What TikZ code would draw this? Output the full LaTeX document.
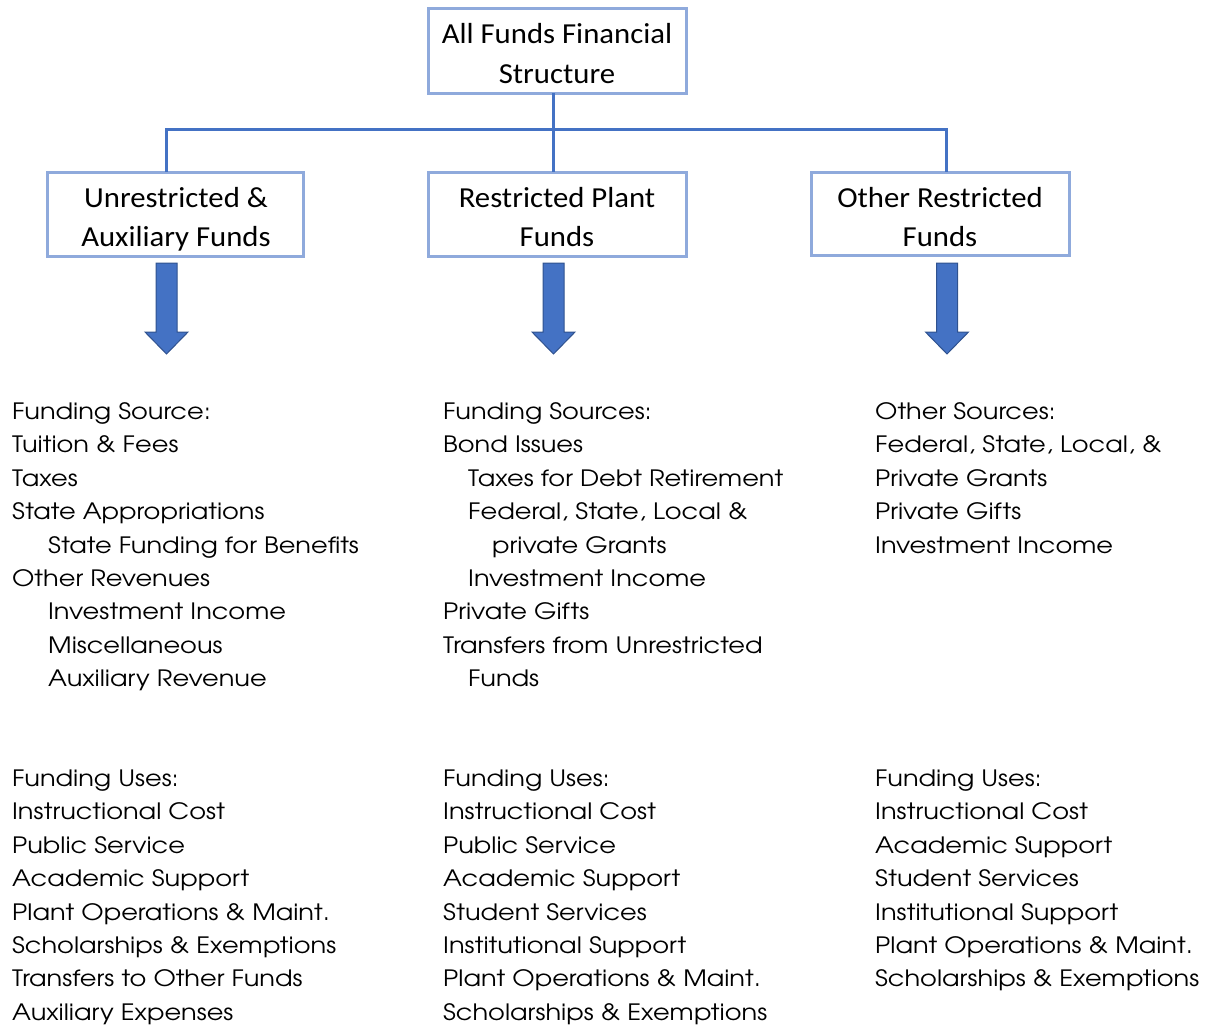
\documentclass[tikz,border=0pt]{standalone}
\usepackage{fontspec}
\setmainfont[FakeStretch=1.14]{TeX Gyre Adventor}
\newfontfamily\boxfont[FakeStretch=1.06]{Carlito}
\definecolor{boxedge}{HTML}{8FAADC}
\definecolor{linkblue}{HTML}{4472C4}
\definecolor{arrowedge}{HTML}{2F528F}
\tikzset{
  fundbox/.style={draw=boxedge, line width=3pt, rectangle, inner sep=0pt},
  boxtext/.style={anchor=base, inner sep=0pt, font=\boxfont\fontsize{29}{39}\selectfont},
  link/.style={draw=linkblue, line width=3pt},
  bigarrow/.style={fill=linkblue, draw=arrowedge, line width=1pt},
  listline/.style={anchor=base west, inner sep=0pt, font=\fontsize{22.5}{33.4}\selectfont}
}
\newcommand{\downarrowshape}[1]{% x center
  \fill[bigarrow] (#1-10.5,263) -- (#1+10.5,263) -- (#1+10.5,332) -- (#1+21.5,332)
    -- (#1,354) -- (#1-21.5,332) -- (#1-10.5,332) -- cycle;
}
\begin{document}
\begin{tikzpicture}[x=1pt,y=-1pt]
\useasboundingbox (0,0) rectangle (1207,1025);

% boxes
\node[fundbox, minimum width=258, minimum height=84] (top) at (557,51) {};
\node[fundbox, minimum width=256, minimum height=84] (left) at (175,214) {};
\node[fundbox, minimum width=258, minimum height=84] (mid) at (557,214) {};
\node[fundbox, minimum width=258, minimum height=83] (right) at (940,213.5) {};

\node[boxtext] (topT1) at (557,44) {All Funds Financial};
\node[boxtext] (topT2) at (557,83.5) {Structure};
\node[boxtext] (leftT1) at (176,207) {Unrestricted \&};
\node[boxtext] (leftT2) at (176,246.5) {Auxiliary Funds};
\node[boxtext] (midT1) at (557,207) {Restricted Plant};
\node[boxtext] (midT2) at (557,246.5) {Funds};
\node[boxtext] (rightT1) at (940,207) {Other Restricted};
\node[boxtext] (rightT2) at (940,246.5) {Funds};

% connectors
\coordinate (topS) at (553,93);
\coordinate (midN) at (553,172);
\coordinate (leftN) at (166,172);
\coordinate (rightN) at (946,172);
\coordinate (busL) at (166,129);
\coordinate (busR) at (946,129);
\draw[link] (topS) -- (midN);
\draw[link] (leftN) -- (busL) -- (busR) -- (rightN);

% block arrows
\downarrowshape{166.5}
\downarrowshape{553.5}
\downarrowshape{947}

% left column sources
\foreach \t/\dx [count=\i] in {{Funding Source:}/0, {Tuition \& Fees}/0, {Taxes}/0,
  {State Appropriations}/0, {State Funding for Benefits}/36, {Other Revenues}/0,
  {Investment Income}/36, {Miscellaneous}/36, {Auxiliary Revenue}/36}
  \node[listline] (ls\i) at (12+\dx, 419.5+33.375*\i-33.375) {\t};

% middle column sources
\foreach \t/\dx [count=\i] in {{Funding Sources:}/0, {Bond Issues}/0,
  {Taxes for Debt Retirement}/25, {Federal, State, Local \&}/25, {private Grants}/49,
  {Investment Income}/25, {Private Gifts}/0, {Transfers from Unrestricted}/0, {Funds}/25}
  \node[listline] (ms\i) at (443+\dx, 419.5+33.375*\i-33.375) {\t};

% right column sources
\foreach \t [count=\i] in {{Other Sources:}, {Federal, State, Local, \&}, {Private Grants},
  {Private Gifts}, {Investment Income}}
  \node[listline] (rs\i) at (875, 419.5+33.375*\i-33.375) {\t};

% left uses
\foreach \t [count=\i] in {{Funding Uses:}, {Instructional Cost}, {Public Service},
  {Academic Support}, {Plant Operations \& Maint.}, {Scholarships \& Exemptions},
  {Transfers to Other Funds}, {Auxiliary Expenses}}
  \node[listline] (lu\i) at (12, 786.6+33.375*\i-33.375) {\t};

% middle uses
\foreach \t [count=\i] in {{Funding Uses:}, {Instructional Cost}, {Public Service},
  {Academic Support}, {Student Services}, {Institutional Support},
  {Plant Operations \& Maint.}, {Scholarships \& Exemptions}}
  \node[listline] (mu\i) at (443, 786.6+33.375*\i-33.375) {\t};

% right uses
\foreach \t [count=\i] in {{Funding Uses:}, {Instructional Cost}, {Academic Support},
  {Student Services}, {Institutional Support}, {Plant Operations \& Maint.},
  {Scholarships \& Exemptions}}
  \node[listline] (ru\i) at (875, 786.6+33.375*\i-33.375) {\t};
\end{tikzpicture}
\end{document}
